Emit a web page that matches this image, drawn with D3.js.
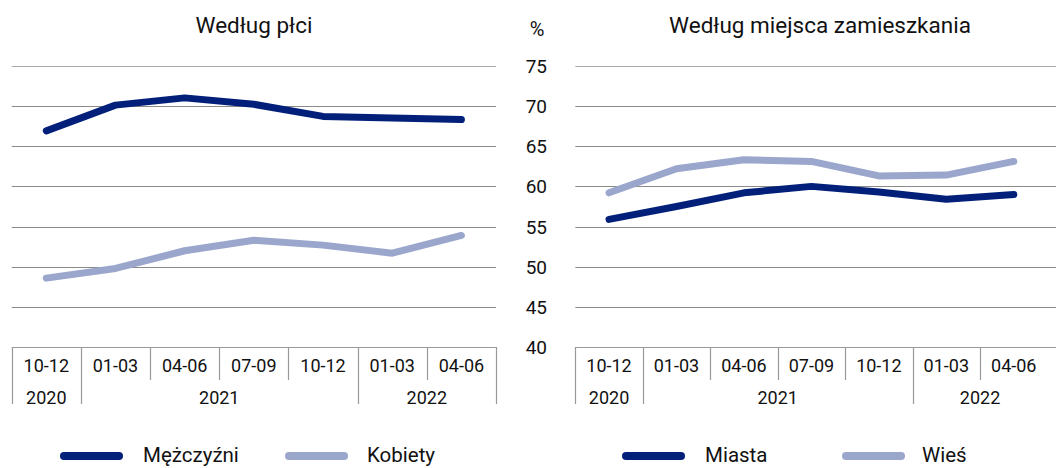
<!DOCTYPE html>
<html><head><meta charset="utf-8">
<script src="https://cdn.jsdelivr.net/npm/d3@7"></script>
<style>body{margin:0;background:#fff}svg{display:block}text{font-family:Roboto,"Noto Sans",sans-serif;fill:#111}</style>
</head><body><svg id="c" width="1056" height="468"></svg>
<script>
const quarters = ["10-12","01-03","04-06","07-09","10-12","01-03","04-06"];
const years = [{label:"2020",from:0,to:1},{label:"2021",from:1,to:5},{label:"2022",from:5,to:7}];
const yTicks = [40,45,50,55,60,65,70,75];
const mezczyzni = [66.9,70.1,71.0,70.2,68.7,68.5,68.3];
const kobiety   = [48.6,49.8,52.0,53.3,52.7,51.7,53.9];
const miasta    = [55.9,57.5,59.2,60.0,59.3,58.4,59.0];
const wies      = [59.2,62.2,63.3,63.1,61.3,61.4,63.1];
const titles = ["Według płci","Według miejsca zamieszkania"];
const legends = [["Mężczyźni","Kobiety"],["Miasta","Wieś"]];

const dark="#02207a", light="#9aa6cc";
const svg=d3.select("#c");
const y=d3.scaleLinear().domain([40,75]).range([347.3,65.7]);

const panels=[
  {x0:11.7,x1:496,gridEnd:496,series:[mezczyzni,kobiety],title:titles[0],tx:254,leg:legends[0],legX:[60,285],legT:[143,367]},
  {x0:575.3,x1:1047.5,gridEnd:1056,series:[miasta,wies],title:titles[1],tx:820,leg:legends[1],legX:[622,842],legT:[705,922]}
];
const colors=[dark,light];

panels.forEach(p=>{
  const xb=d3.scaleBand().domain(d3.range(quarters.length)).range([p.x0,p.x1]);
  const g=svg.append("g");
  g.selectAll(".grid").data(yTicks.filter(t=>t>40)).enter().append("line")
    .attr("x1",p.x0).attr("x2",p.gridEnd).attr("y1",d=>Math.round(y(d))+0.5).attr("y2",d=>Math.round(y(d))+0.5)
    .attr("stroke",d=>d===75?"#aaa":"#8a8a8a").attr("stroke-width",1.2);
  g.append("line").attr("x1",p.x0).attr("x2",p.gridEnd).attr("y1",347.5).attr("y2",347.5).attr("stroke","#999").attr("stroke-width",1.2);
  const bounds=d3.range(quarters.length+1);
  const yearBounds=new Set(years.flatMap(d=>[d.from,d.to]));
  g.selectAll(".sep").data(bounds.filter(b=>!(p.x1<p.gridEnd && b===quarters.length))).enter().append("line")
    .attr("x1",b=>Math.round(p.x0+b*xb.step())+0.5).attr("x2",b=>Math.round(p.x0+b*xb.step())+0.5)
    .attr("y1",347).attr("y2",b=>yearBounds.has(b)?404:380)
    .attr("stroke","#999").attr("stroke-width",1.2);
  g.selectAll(".ql").data(quarters).enter().append("text")
    .attr("x",(d,i)=>xb(i)+xb.bandwidth()/2).attr("y",372).attr("text-anchor","middle")
    .attr("font-size",18).text(d=>d);
  g.selectAll(".yl").data(years).enter().append("text")
    .attr("x",d=>p.x0+(d.from+d.to)/2*xb.step()).attr("y",404).attr("text-anchor","middle")
    .attr("font-size",18).text(d=>d.label);
  const line=d3.line().x((d,i)=>xb(i)+xb.bandwidth()/2).y(d=>y(d));
  p.series.forEach((s,k)=>{
    g.append("path").attr("d",line(s)).attr("fill","none").attr("stroke",colors[k])
      .attr("stroke-width",7).attr("stroke-linecap","round").attr("stroke-linejoin","round");
  });
  g.append("text").attr("x",p.tx).attr("y",33).attr("text-anchor","middle").attr("font-size",22.5).text(p.title);
  p.leg.forEach((name,k)=>{
    g.append("line").attr("x1",p.legX[k]+4).attr("x2",p.legX[k]+59).attr("y1",456).attr("y2",456)
      .attr("stroke",colors[k]).attr("stroke-width",8).attr("stroke-linecap","round");
    g.append("text").attr("x",p.legT[k]).attr("y",462).attr("font-size",20.5).text(name);
  });
});
svg.selectAll(".yt").data(yTicks).enter().append("text")
  .attr("x",547).attr("y",d=>y(d)+7).attr("text-anchor","end").attr("font-size",19).text(d=>d);
svg.append("text").attr("x",537).attr("y",36).attr("text-anchor","middle").attr("font-size",20).text("%");
</script></body></html>
